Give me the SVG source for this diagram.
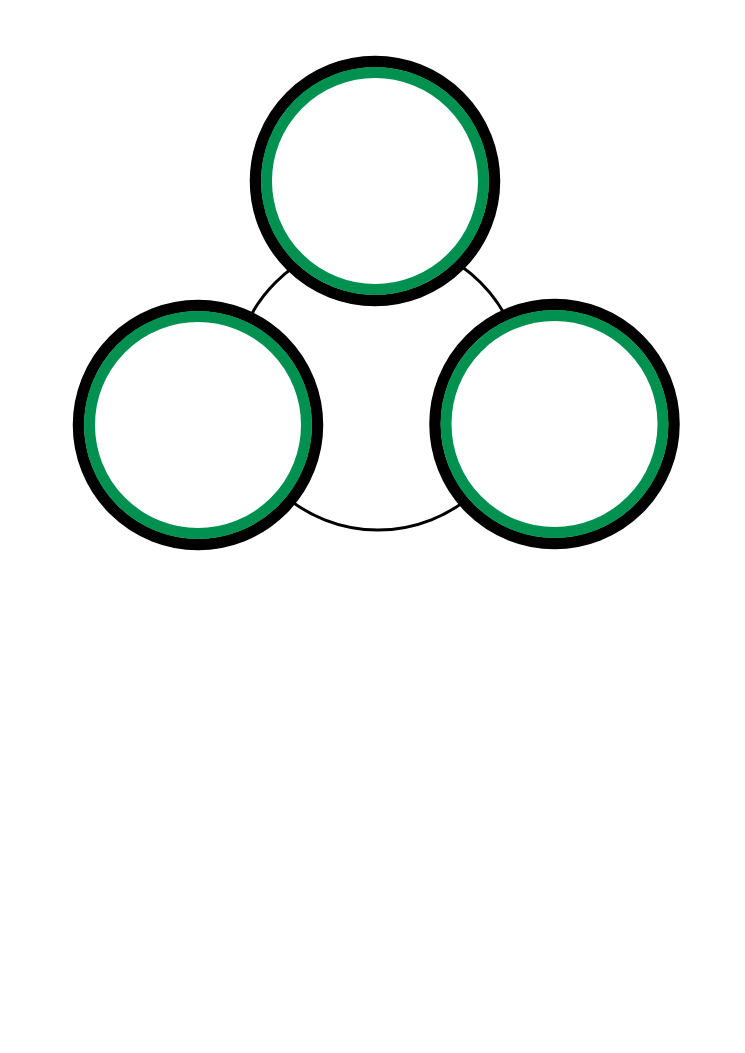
<svg xmlns="http://www.w3.org/2000/svg" width="745" height="1053" viewBox="0 0 745 1053">
<style>
.link{fill:none;stroke:#000;stroke-width:3}
.outer{fill:#fff;stroke:#000;stroke-width:11.5}
.inner{fill:none;stroke:#009150;stroke-width:11}
</style>
<rect width="745" height="1053" fill="#fff"/>
<g id="connectors">
<circle class="link" cx="378" cy="385" r="145"/>
</g>
<g id="node-top">
<circle class="outer" cx="375" cy="181" r="119.5"/>
<circle class="inner" cx="375" cy="181" r="108.5"/>
</g>
<g id="node-left">
<circle class="outer" cx="198" cy="425" r="119.5"/>
<circle class="inner" cx="198" cy="425" r="108.5"/>
</g>
<g id="node-right">
<circle class="outer" cx="554.5" cy="424" r="119.5"/>
<circle class="inner" cx="554.5" cy="424" r="108.5"/>
</g>
</svg>
